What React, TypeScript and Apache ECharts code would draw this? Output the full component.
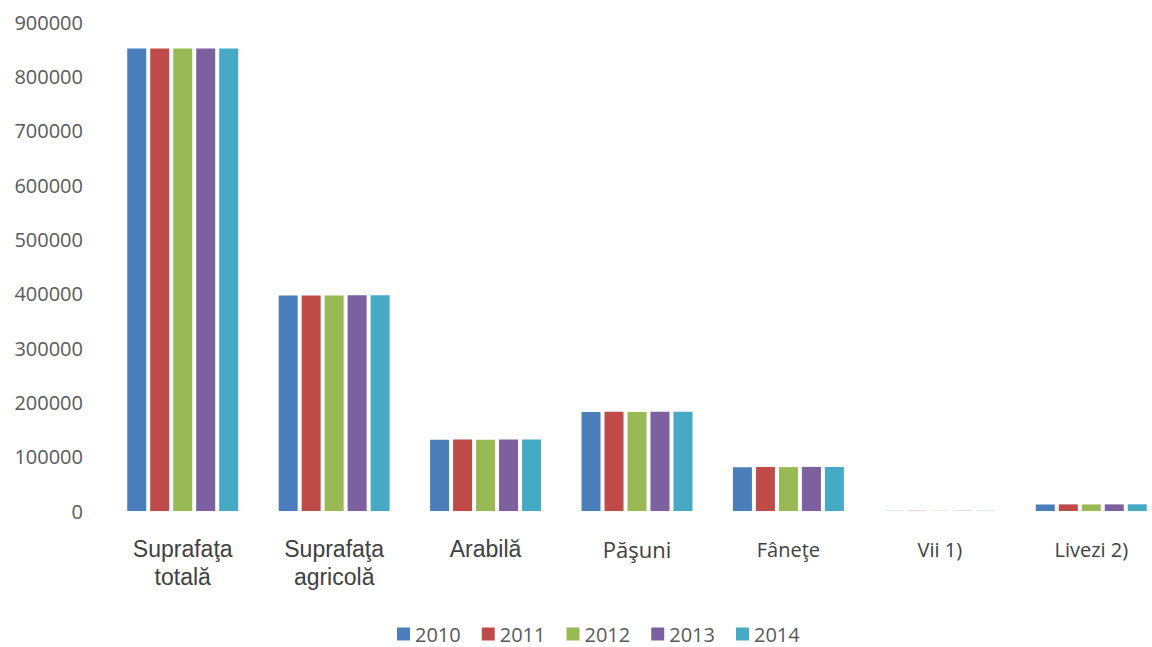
import React, { useEffect, useRef } from "react";
import * as echarts from "echarts";

const categories = ["Suprafaţa\ntotală", "Suprafaţa\nagricolă", "Arabilă", "Păşuni", "Fâneţe", "Vii 1)", "Livezi 2)"];
const years = ["2010", "2011", "2012", "2013", "2014"];
const colors = ["#4a7ebb", "#be4b48", "#98b954", "#7d60a0", "#46aac5"];

const v2010 = [851000, 396500, 131000, 182000, 80500, 400, 12000];
const v2011 = [851000, 396800, 131500, 182500, 81000, 400, 12200];
const v2012 = [851000, 396800, 131200, 182300, 80800, 400, 12100];
const v2013 = [851000, 397000, 131600, 182600, 81200, 400, 12200];
const v2014 = [851000, 397000, 131400, 182500, 81000, 400, 12300];
const seriesValues = [v2010, v2011, v2012, v2013, v2014];

const yMin = 0;
const yMax = 900000;
const yInterval = 100000;

const styleKeyFor = (i: number) => (i <= 2 ? "a" : i === 3 ? "b" : "c");

export default function App() {
  const ref = useRef<HTMLDivElement>(null);
  useEffect(() => {
    document.body.style.margin = "0";
    document.body.style.overflow = "hidden";
    if (!ref.current) return;
    const chart = echarts.init(ref.current, null, { renderer: "svg" });
    chart.setOption({
      animation: false,
      backgroundColor: "#ffffff",
      color: colors,
      grid: { left: 107, right: 3, top: 22, bottom: 136, containLabel: false },
      legend: {
        data: years,
        left: 397,
        top: 621,
        itemWidth: 13,
        itemHeight: 13,
        itemGap: 21,
        icon: "rect",
        padding: 0,
        textStyle: { fontFamily: "Open Sans", fontSize: 20, lineHeight: 26, color: "#595959" },
      },
      xAxis: {
        type: "category",
        data: categories,
        axisLine: { show: false },
        axisTick: { show: false },
        axisLabel: {
          margin: 24,
          interval: 0,
          formatter: (val: string, idx: number) =>
            val
              .split("\n")
              .map((l) => `{${styleKeyFor(idx)}|${l}}`)
              .join("\n"),
          rich: {
            a: { fontFamily: "Liberation Sans", fontSize: 23, color: "#404040", lineHeight: 28 },
            b: { fontFamily: "Open Sans", fontSize: 22, color: "#404040", lineHeight: 28 },
            c: { fontFamily: "Open Sans", fontSize: 20, color: "#404040", lineHeight: 28 },
          },
        },
      },
      yAxis: {
        type: "value",
        min: yMin,
        max: yMax,
        interval: yInterval,
        axisLine: { show: false },
        axisTick: { show: false },
        splitLine: { show: false },
        axisLabel: {
          margin: 24,
          fontFamily: "Open Sans",
          fontSize: 20,
          color: "#595959",
          formatter: (v: number) => String(v),
        },
      },
      series: years.map((y, i) => ({
        name: y,
        type: "bar",
        data: seriesValues[i],
        barWidth: 19,
        barGap: "21%",
        itemStyle: { color: colors[i] },
      })),
    });
    return () => chart.dispose();
  }, []);
  return <div ref={ref} style={{ width: 1170, height: 647 }} />;
}
